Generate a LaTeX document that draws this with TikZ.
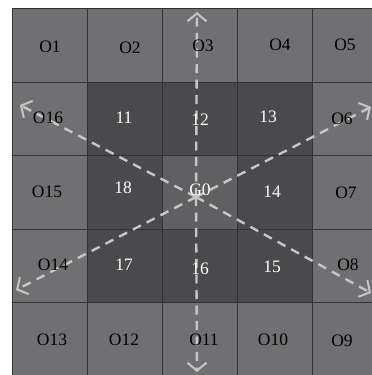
\documentclass[tikz,border=0pt]{standalone}
\usepackage{fontspec}
\setmainfont{Liberation Serif}
\usetikzlibrary{arrows.meta}
\definecolor{outercol}{RGB}{112,112,115}
\definecolor{innercol}{RGB}{74,74,76}
\definecolor{centercol}{RGB}{96,96,98}
\definecolor{gridcol}{RGB}{50,50,52}
\definecolor{dashcol}{RGB}{198,198,198}
\tikzset{
  cell/.style={draw=gridcol, line width=1.2pt, minimum width=75pt, minimum height=73.5pt, inner sep=0pt, anchor=north west},
  olab/.style={font=\fontsize{17.5}{17.5}\selectfont, text=black, inner sep=0pt},
  ilab/.style={font=\fontsize{17.5}{17.5}\selectfont, text=white, inner sep=0pt},
  dashline/.style={draw=dashcol, line width=2.4pt, dash pattern=on 9pt off 6.5pt, -{Straight Barb[length=8pt,width=19pt,line width=2pt]}}
}
\begin{document}
\begin{tikzpicture}[x=1pt,y=-1pt]
\useasboundingbox[fill=white] (0,0) rectangle (372,375);
\clip (0,0) rectangle (372,375);
% cells
\foreach \r in {0,...,4}{
  \foreach \c in {0,...,4}{
    \pgfmathtruncatemacro{\inner}{(\r>0)&&(\r<4)&&(\c>0)&&(\c<4) ? 1 : 0}
    \pgfmathtruncatemacro{\cen}{(\r==2)&&(\c==2) ? 1 : 0}
    \ifnum\cen=1
      \node[cell, fill=centercol] (cell-\r-\c) at ({12+75*\c},{8+73.5*\r}) {};
    \else\ifnum\inner=1
      \node[cell, fill=innercol] (cell-\r-\c) at ({12+75*\c},{8+73.5*\r}) {};
    \else
      \node[cell, fill=outercol] (cell-\r-\c) at ({12+75*\c},{8+73.5*\r}) {};
    \fi\fi
  }
}
% arrows
\coordinate (ctr) at (196,197);
\coordinate (eU) at (197,12);
\coordinate (eD) at (197,372);
\coordinate (eUL) at (20,105);
\coordinate (eUR) at (371,107);
\coordinate (eDL) at (16,290);
\coordinate (eDR) at (371,293);
\draw[dashline] (ctr) -- (eU);
\draw[dashline] (ctr) -- (eD);
\draw[dashline] (ctr) -- (eUL);
\draw[dashline] (ctr) -- (eUR);
\draw[dashline] (ctr) -- (eDL);
\draw[dashline] (ctr) -- (eDR);
% labels row 1
\node[olab] (O1) at (50,47) {O1};
\node[olab] (O2) at (130,48) {O2};
\node[olab] (O3) at (203,46) {O3};
\node[olab] (O4) at (280,45) {O4};
\node[olab] (O5) at (345,45) {O5};
% row 2
\node[olab] (O16) at (48,118) {O16};
\node[ilab] (I1) at (124,118) {11};
\node[ilab] (I2) at (200,120) {12};
\node[ilab] (I3) at (268,117) {13};
\node[olab] (O6) at (342,119) {O6};
% row 3
\node[olab] (O15) at (47,192) {O15};
\node[ilab] (I8) at (123,188) {18};
\node[ilab] (G0) at (200,190) {G0};
\node[ilab] (I4) at (272,192) {14};
\node[olab] (O7) at (346,193) {O7};
% row 4
\node[olab] (O14) at (53,265) {O14};
\node[ilab] (I7) at (124,265) {17};
\node[ilab] (I6) at (200,269) {16};
\node[ilab] (I5) at (272,267) {15};
\node[olab] (O8) at (348,265) {O8};
% row 5
\node[olab] (O13) at (52,340) {O13};
\node[olab] (O12) at (124,340) {O12};
\node[olab] (O11) at (204,340) {O11};
\node[olab] (O10) at (273,340) {O10};
\node[olab] (O9) at (342,341) {O9};
\end{tikzpicture}
\end{document}
